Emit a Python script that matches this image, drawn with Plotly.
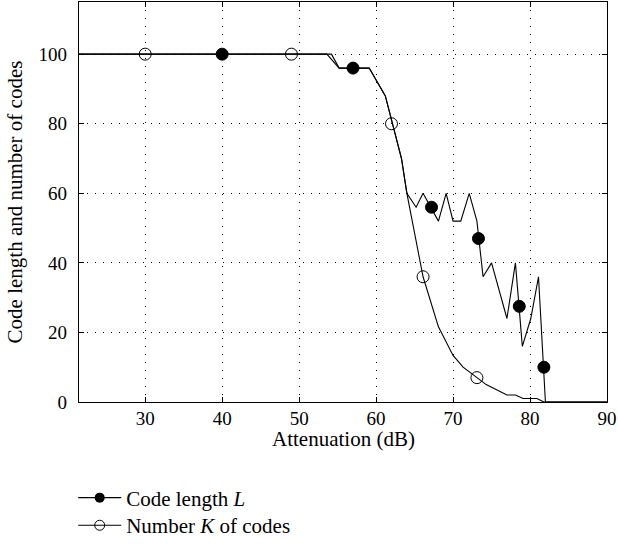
import plotly.graph_objects as go

# Code length L (line)
L_x = [21.4, 53.6, 55.2, 59.1, 61.2, 63.3, 64, 65.2, 66.1, 68.1, 69.1, 70, 71, 72.1, 73.1, 73.9, 75, 77, 78.1, 79, 80.1, 81.1, 82, 90]
L_y = [100, 100, 96, 96, 88, 70, 60, 56, 60, 52, 60, 52, 52, 60, 52, 36, 40, 24, 40, 16, 24, 36, 0, 0]
# Code length L (markers)
L_mx = [40, 57, 67.2, 73.3, 78.6, 81.8]
L_my = [100, 96, 56, 47, 27.5, 10]

# Number K of codes (line)
K_x = [21.4, 54.2, 55.2, 59.1, 61.2, 63.3, 64, 66.1, 68.1, 70, 71.3, 73.1, 74.3, 77, 78.1, 79.1, 80.9, 81.8, 90]
K_y = [100, 100, 96, 96, 88, 70, 60, 36, 21.6, 13.4, 10, 7, 5, 2, 2, 1, 1, 0, 0]
# Number K of codes (markers)
K_mx = [30, 49, 62, 66.1, 73.1]
K_my = [100, 100, 80, 36, 7]

x_ticks = [30, 40, 50, 60, 70, 80, 90]
y_ticks = [0, 20, 40, 60, 80, 100]

FONT = "Liberation Serif"
TICK_SIZE = 19
TITLE_SIZE = 21
LEG_SIZE = 21

fig = go.Figure()
fig.add_trace(go.Scatter(x=L_x, y=L_y, mode="lines", line=dict(color="black", width=1.1),
                         showlegend=False))
fig.add_trace(go.Scatter(x=K_x, y=K_y, mode="lines", line=dict(color="black", width=1.1),
                         showlegend=False))
fig.add_trace(go.Scatter(x=L_mx, y=L_my, mode="markers",
                         marker=dict(symbol="circle", size=12, color="black", line=dict(color="black", width=1)),
                         showlegend=False))
fig.add_trace(go.Scatter(x=K_mx, y=K_my, mode="markers",
                         marker=dict(symbol="circle-open", size=12, color="black", line=dict(color="black", width=1)),
                         showlegend=False))
# legend entries
fig.add_trace(go.Scatter(x=[None], y=[None], mode="lines+markers", name="Code length <i>L</i>",
                         line=dict(color="black", width=1.1),
                         marker=dict(symbol="circle", size=10, color="black"), legend="legend"))
fig.add_trace(go.Scatter(x=[None], y=[None], mode="lines+markers", name="Number <i>K</i> of codes",
                         line=dict(color="black", width=1.1),
                         marker=dict(symbol="circle-open", size=10, color="black"), legend="legend2"))

axis_common = dict(
    showline=True, linecolor="black", linewidth=1.2, mirror="allticks",
    ticks="inside", ticklen=5, tickcolor="black", tickwidth=1,
    showgrid=True, gridcolor="black", gridwidth=1, griddash="1px,7px",
    zeroline=False, automargin=False,
    tickfont=dict(family=FONT, size=TICK_SIZE, color="black"),
    title_font=dict(family=FONT, size=TITLE_SIZE, color="black"),
)

fig.update_xaxes(range=[21.4, 90], tickvals=x_ticks,
                 ticklabelstandoff=-1, ticklabeloverflow="allow", **axis_common)
fig.update_yaxes(range=[0, 115], tickvals=y_ticks, title_text="Code length and number of codes",
                 title_standoff=10, ticklabelstandoff=7, **axis_common)

leg_common = dict(x=-0.011, xanchor="left", yanchor="middle", itemwidth=43,
                  bgcolor="rgba(0,0,0,0)", font=dict(family=FONT, size=LEG_SIZE, color="black"))

fig.update_layout(
    width=618, height=548,
    margin=dict(l=79, r=11, t=2, b=138),
    paper_bgcolor="white", plot_bgcolor="white",
    font=dict(family=FONT, size=TITLE_SIZE, color="black"),
    legend=dict(y=-0.24, **leg_common),
    legend2=dict(y=-0.309, **leg_common),
    annotations=[dict(text="Attenuation (dB)", x=0.5, y=-0.092, xref="paper", yref="paper",
                      xanchor="center", yanchor="middle", showarrow=False,
                      font=dict(family=FONT, size=TITLE_SIZE, color="black"))],
)

fig.write_html("out.html", config={"displayModeBar": False},
               post_script="document.body.style.margin='0px';document.body.style.overflow='hidden';")
